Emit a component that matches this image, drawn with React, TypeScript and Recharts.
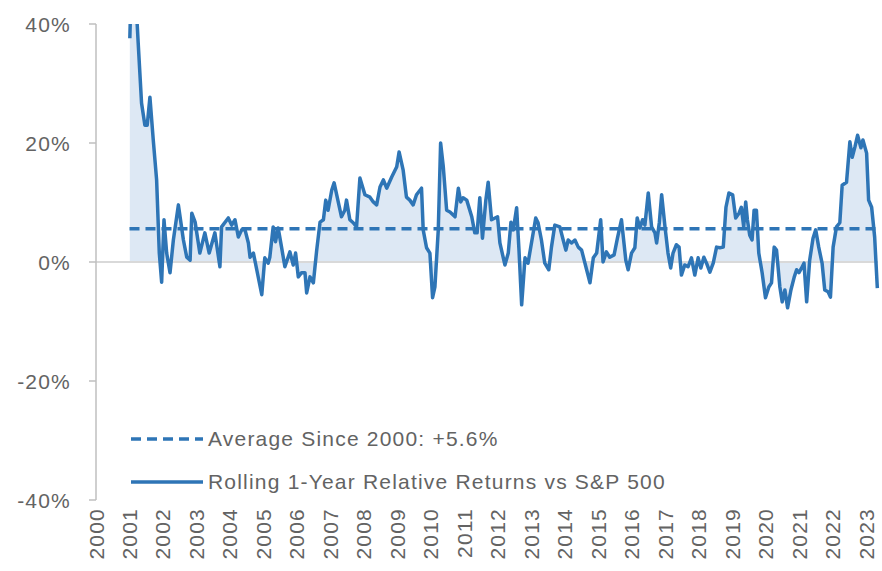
import React from 'react';
import { ComposedChart, Area, Line, XAxis, YAxis, ReferenceLine } from 'recharts';

// decimal year of each observation
const dates = [
  2001.01, 2001.04, 2001.13, 2001.22, 2001.26, 2001.36, 2001.46, 2001.53, 2001.61, 2001.71, 2001.81, 2001.89, 2001.96,
  2002.03, 2002.11, 2002.21, 2002.31, 2002.46, 2002.61, 2002.71, 2002.81, 2002.86, 2002.96,
  2003.10, 2003.25, 2003.38, 2003.55, 2003.70, 2003.75, 2003.95,
  2004.05, 2004.15, 2004.25, 2004.35, 2004.45, 2004.55, 2004.60, 2004.70, 2004.80, 2004.95,
  2005.04, 2005.14, 2005.19, 2005.29, 2005.36, 2005.44, 2005.54, 2005.64, 2005.79, 2005.89, 2005.96,
  2006.04, 2006.14, 2006.24, 2006.29, 2006.39, 2006.49, 2006.59, 2006.69, 2006.79, 2006.86, 2006.93,
  2007.04, 2007.11, 2007.33, 2007.43, 2007.48, 2007.58, 2007.68, 2007.78, 2007.88,
  2008.03, 2008.18, 2008.28, 2008.38, 2008.48, 2008.58, 2008.68, 2008.83, 2008.98,
  2009.05, 2009.17, 2009.27, 2009.37, 2009.47, 2009.57, 2009.72, 2009.77, 2009.87, 2009.97,
  2010.05, 2010.12, 2010.22, 2010.29, 2010.37, 2010.47, 2010.57, 2010.72, 2010.82, 2010.89, 2010.96,
  2011.07, 2011.22, 2011.31, 2011.38, 2011.46, 2011.54, 2011.64, 2011.71, 2011.81, 2011.99,
  2012.06, 2012.21, 2012.31, 2012.39, 2012.46, 2012.56, 2012.63, 2012.71, 2012.81, 2012.90,
  2013.13, 2013.20, 2013.30, 2013.40, 2013.52, 2013.60, 2013.70, 2013.85, 2013.95,
  2014.03, 2014.10, 2014.20, 2014.30, 2014.40, 2014.50, 2014.65, 2014.75, 2014.85, 2014.95,
  2015.07, 2015.14, 2015.24, 2015.34, 2015.47, 2015.57, 2015.69, 2015.82, 2015.89, 2015.99,
  2016.09, 2016.16, 2016.24, 2016.32, 2016.39, 2016.49, 2016.59, 2016.69, 2016.74, 2016.82, 2016.89, 2016.99,
  2017.08, 2017.16, 2017.23, 2017.33, 2017.41, 2017.48, 2017.58, 2017.68, 2017.78, 2017.88, 2017.98,
  2018.06, 2018.15, 2018.23, 2018.33, 2018.43, 2018.53, 2018.63, 2018.73, 2018.81, 2018.90,
  2019.01, 2019.10, 2019.20, 2019.27, 2019.34, 2019.40, 2019.45, 2019.52, 2019.59, 2019.65, 2019.72, 2019.79, 2019.89, 2019.99,
  2020.09, 2020.17, 2020.25, 2020.32, 2020.42, 2020.49, 2020.57, 2020.65, 2020.75, 2020.85, 2020.92, 2020.99,
  2021.07, 2021.14, 2021.22, 2021.31, 2021.41, 2021.49, 2021.58, 2021.68, 2021.76, 2021.86, 2021.93,
  2022.01, 2022.11, 2022.21, 2022.28, 2022.41, 2022.51, 2022.58, 2022.66, 2022.74, 2022.84, 2022.90,
  2023.01, 2023.07, 2023.16, 2023.25, 2023.33,
];

// rolling 1-year relative return vs S&P 500, %
const relReturns = [
  37.6, 44, 47, 41, 36.8, 26.7, 23.0, 23.0, 27.7, 20.5, 13.8, 1.5, -3.4,
  7.1, 1.5, -1.8, 3.7, 9.6, 3.7, 0.8, 0.3, 8.2, 6.7,
  1.5, 4.9, 1.5, 4.9, -0.8, 5.9, 7.4,
  6.2, 7.1, 4.2, 5.4, 5.4, 3.2, 0.8, 1.5, -1.3, -5.5,
  0.7, -0.2, 0.8, 5.9, 3.4, 5.7, 2.5, -0.8, 1.7, -0.5, 1.5,
  -2.5, -1.8, -1.8, -5.2, -2.5, -3.5, 2.0, 6.7, 7.1, 10.4, 8.7,
  12.1, 13.3, 7.6, 8.7, 10.4, 7.1, 6.6, 5.9, 14.1,
  11.3, 10.9, 10.1, 9.6, 12.6, 13.8, 12.4, 14.3, 16.0,
  18.5, 15.5, 10.9, 10.4, 9.6, 11.3, 12.4, 5.4, 2.4, 1.5,
  -6.0, -4.2, 5.4, 20.0, 16.0, 8.7, 8.4, 7.6, 12.4, 10.1, 10.8,
  10.4, 7.6, 4.9, 4.9, 10.8, 4.0, 10.4, 13.4, 7.1, 7.6,
  3.2, -0.5, 1.5, 6.7, 5.4, 9.1, 2.0, -7.2, 0.7, -0.2,
  7.4, 6.6, 3.7, -0.2, -1.3, 2.5, 6.2, 5.9, 3.7,
  2.0, 3.7, 3.2, 3.7, 2.5, 2.0, -1.3, -3.5, 0.7, 1.5,
  7.1, 0.0, 1.7, 0.8, 1.2, 4.0, 7.1, 0.3, -1.3, 1.5,
  2.4, 7.4, 5.7, 7.1, 6.2, 11.6, 5.9, 4.9, 3.2, 6.6, 11.3, 5.9,
  1.5, -1.0, 1.5, 2.9, 2.5, -2.2, -0.5, -0.8, 0.7, -2.2, 0.7,
  -1.0, 0.8, -0.2, -1.7, -0.2, 2.5, 2.4, 2.5, 9.2, 11.6,
  11.3, 7.4, 8.2, 9.2, 5.9, 10.1, 7.1, 4.5, 3.7, 8.7, 8.7, 1.5, -1.8, -6.0,
  -4.2, -3.5, 2.5, 2.0, -4.2, -6.7, -4.7, -7.7, -4.7, -2.5, -1.3, -1.8,
  -1.0, -0.2, -6.7, 0.3, 4.0, 5.4, 2.5, -0.2, -4.7, -5.0, -5.9,
  2.5, 5.9, 6.6, 12.9, 13.4, 20.2, 17.6, 19.3, 21.3, 19.2, 20.5,
  18.3, 10.4, 9.2, 4.2, -4.4,
];

const avgSince2000 = 5.6;
const avgStart = 2001.0;
const seriesEnd = 2023.35;

const yearTicks = [
  2000, 2001, 2002, 2003, 2004, 2005, 2006, 2007, 2008, 2009, 2010, 2011,
  2012, 2013, 2014, 2015, 2016, 2017, 2018, 2019, 2020, 2021, 2022, 2023,
];
const pctTicks = [-40, -20, 0, 20, 40];

const legendLabels = ['Average Since 2000: +5.6%', 'Rolling 1-Year Relative Returns vs S&P 500'];

const data = dates.map((d, i) => ({ date: d, value: relReturns[i] }));

const BLUE = '#2e75b6';
const TEXT = '#636363';
const FONT = '"Liberation Sans", Arial, sans-serif';
const SPACING = 1.2;

const YearTick = ({ x, y, payload }: any) => (
  <text
    x={x}
    y={y + 8}
    transform={`rotate(-90, ${x}, ${y + 8})`}
    textAnchor="end"
    dominantBaseline="central"
    fill={TEXT}
    fontSize={21}
    fontFamily={FONT}
    letterSpacing={SPACING}
  >
    {payload.value}
  </text>
);

const PctTick = ({ x, y, payload }: any) => (
  <text
    x={x}
    y={y}
    textAnchor="end"
    dominantBaseline="central"
    fill={TEXT}
    fontSize={21}
    fontFamily={FONT}
    letterSpacing={SPACING}
  >
    {`${payload.value}%`}
  </text>
);

export default function App() {
  return (
    <div style={{ position: 'absolute', left: 0, top: 0, width: 882, height: 571, background: '#fff' }}>
      <ComposedChart width={882} height={571} data={data} margin={{ top: 24, right: 4, bottom: 0, left: 0 }}>
        <XAxis
          dataKey="date"
          type="number"
          domain={[2000, seriesEnd]}
          ticks={yearTicks}
          interval={0}
          axisLine={false}
          tickLine={false}
          tickSize={0}
          tickMargin={0}
          height={71}
          tick={<YearTick />}
        />
        <YAxis
          type="number"
          domain={[-40, 40]}
          ticks={pctTicks}
          allowDataOverflow
          width={96}
          tickSize={7}
          tickMargin={18}
          axisLine={{ stroke: '#bfbfbf', strokeWidth: 1.5 }}
          tickLine={{ stroke: '#bfbfbf', strokeWidth: 1.5 }}
          tick={<PctTick />}
        />
        <ReferenceLine y={0} stroke="#d9d9d9" strokeWidth={2} />
        <Area
          dataKey="value"
          type="linear"
          baseValue={0}
          stroke="none"
          fill="#dde8f4"
          fillOpacity={1}
          isAnimationActive={false}
        />
        <ReferenceLine
          segment={[{ x: avgStart, y: avgSince2000 }, { x: seriesEnd, y: avgSince2000 }]}
          stroke={BLUE}
          strokeWidth={3.5}
          strokeDasharray="10 6"
        />
        <Line
          dataKey="value"
          type="linear"
          stroke={BLUE}
          strokeWidth={3.5}
          strokeLinejoin="round"
          dot={false}
          isAnimationActive={false}
        />
      </ComposedChart>
      <div
        style={{
          position: 'absolute',
          left: 131,
          top: 424,
          fontFamily: FONT,
          fontSize: 21,
          color: TEXT,
          letterSpacing: SPACING,
          whiteSpace: 'nowrap',
        }}
      >
        {legendLabels.map((label, i) => (
          <div key={label} style={{ display: 'flex', alignItems: 'center', height: 30, marginBottom: 13 }}>
            <svg width={74} height={6} style={{ marginRight: 3 }}>
              <line
                x1={0}
                y1={3}
                x2={72}
                y2={3}
                stroke={BLUE}
                strokeWidth={3.5}
                strokeDasharray={i === 0 ? '10 6' : undefined}
              />
            </svg>
            <span>{label}</span>
          </div>
        ))}
      </div>
    </div>
  );
}
